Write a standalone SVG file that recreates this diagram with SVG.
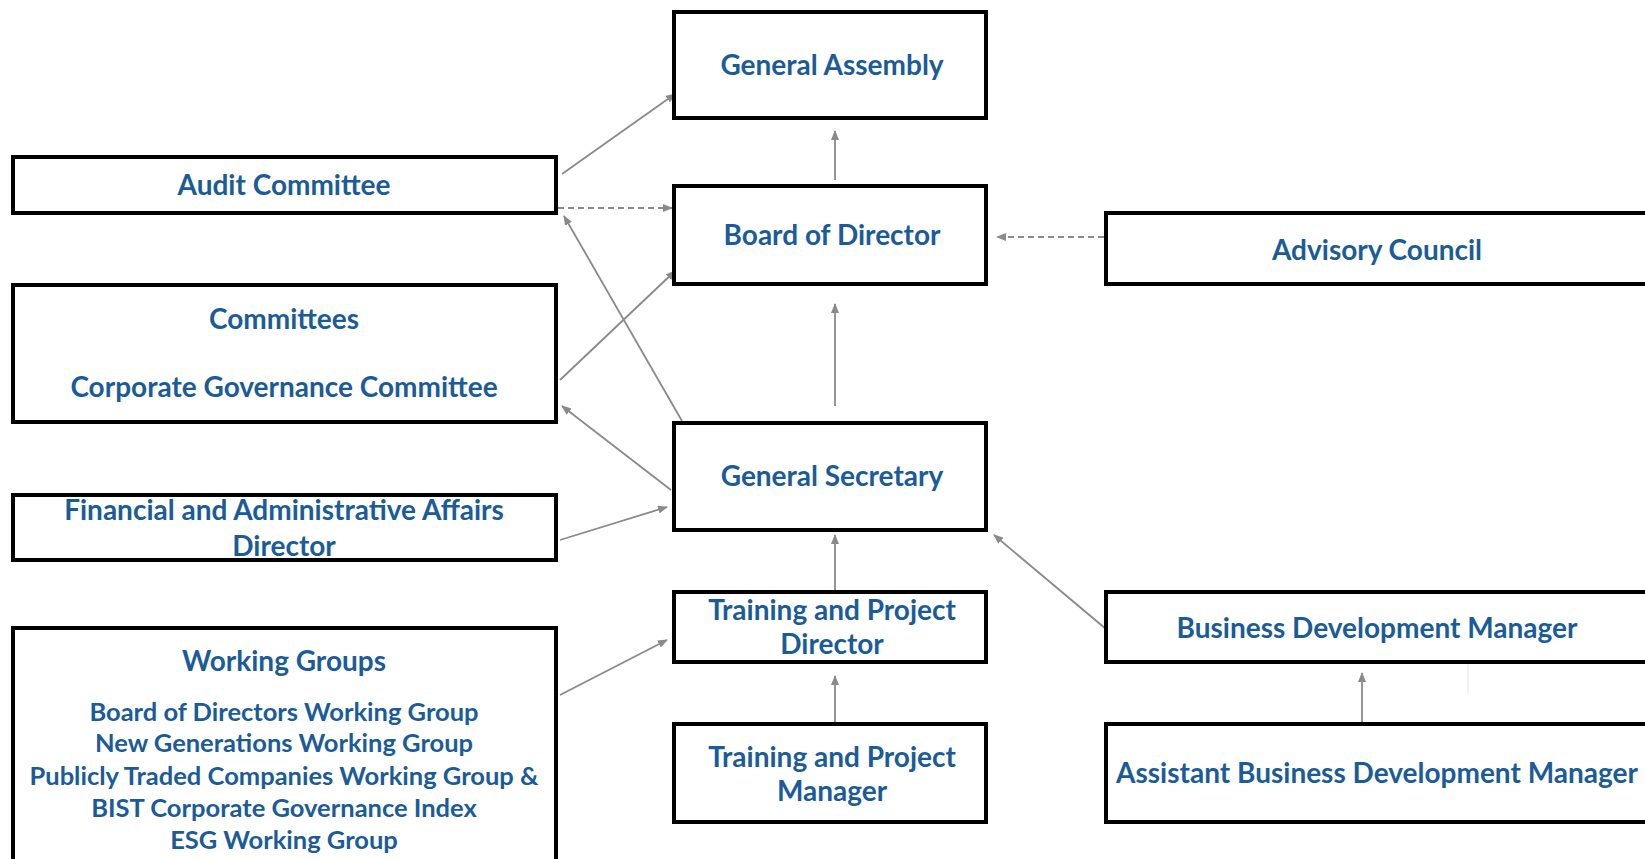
<svg xmlns="http://www.w3.org/2000/svg" width="1645" height="859" viewBox="0 0 1645 859">
<style>
.box{fill:#fff;stroke:#000;stroke-width:4}
.t{font-family:Lato,"Open Sans","Liberation Sans",sans-serif;font-weight:bold;font-size:28px;fill:#1b5c98;text-anchor:middle}
.s{font-size:25.5px}
.c{stroke:#8a8a8a;stroke-width:1.8;fill:none;marker-end:url(#ah)}
.d{stroke-dasharray:6 4}
</style>
<defs>
<marker id="ah" viewBox="0 0 10 8" refX="9" refY="4" markerWidth="10" markerHeight="8" orient="auto" markerUnits="userSpaceOnUse">
<path d="M0,0 L10,4 L0,8 z" fill="#8a8a8a"/>
</marker>
</defs>
<rect width="1645" height="859" fill="#fff"/>
<g id="connectors">
<line class="c" x1="562" y1="174" x2="675" y2="94"/>
<line class="c d" x1="558" y1="208" x2="672" y2="208"/>
<line class="c" x1="560" y1="380" x2="675" y2="271"/>
<line class="c" x1="682" y1="421" x2="564" y2="216"/>
<line class="c" x1="671" y1="490" x2="562" y2="406"/>
<line class="c" x1="560" y1="540" x2="667" y2="507"/>
<line class="c" x1="560" y1="695" x2="667" y2="640"/>
<line class="c" x1="835" y1="180" x2="835" y2="131"/>
<line class="c" x1="835" y1="406" x2="835" y2="304"/>
<line class="c" x1="835" y1="591" x2="835" y2="535"/>
<line class="c" x1="835" y1="723" x2="835" y2="676"/>
<line class="c d" x1="1104" y1="237" x2="997" y2="237"/>
<line class="c" x1="1106" y1="629" x2="994" y2="535"/>
<line class="c" x1="1362" y1="723" x2="1362" y2="673"/>
<line x1="1468" y1="664" x2="1468" y2="693" stroke="#e2e2e2" stroke-width="1"/>
</g>
<g id="general-assembly"><rect class="box" x="674" y="12" width="312" height="106"/><text class="t" x="832" y="75">General Assembly</text></g>
<g id="audit-committee"><rect class="box" x="13" y="157" width="543" height="56"/><text class="t" x="284" y="195">Audit Committee</text></g>
<g id="board-of-director"><rect class="box" x="674" y="186" width="312" height="98"/><text class="t" x="832" y="245">Board of Director</text></g>
<g id="advisory-council"><rect class="box" x="1106" y="213" width="545" height="71"/><text class="t" x="1377" y="260">Advisory Council</text></g>
<g id="committees"><rect class="box" x="13" y="285" width="543" height="137"/><text class="t" x="284" y="329">Committees</text><text class="t" x="284" y="397">Corporate Governance Committee</text></g>
<g id="general-secretary"><rect class="box" x="674" y="423" width="312" height="107"/><text class="t" x="832" y="486">General Secretary</text></g>
<g id="financial-director"><rect class="box" x="13" y="495" width="543" height="65"/><text class="t" x="284" y="520">Financial and Administrative Affairs</text><text class="t" x="284" y="556">Director</text></g>
<g id="training-project-director"><rect class="box" x="674" y="592" width="312" height="70"/><text class="t" x="832" y="620">Training and Project</text><text class="t" x="832" y="654">Director</text></g>
<g id="business-development-manager"><rect class="box" x="1106" y="592" width="545" height="70"/><text class="t" x="1377" y="638">Business Development Manager</text></g>
<g id="working-groups"><rect class="box" x="13" y="628" width="543" height="240"/><text class="t" x="284" y="671">Working Groups</text>
<text class="t s" x="284" y="721">Board of Directors Working Group</text>
<text class="t s" x="284" y="752">New Generations Working Group</text>
<text class="t s" x="284" y="785">Publicly Traded Companies Working Group &amp;</text>
<text class="t s" x="284" y="817">BIST Corporate Governance Index</text>
<text class="t s" x="284" y="849">ESG Working Group</text></g>
<g id="training-project-manager"><rect class="box" x="674" y="724" width="312" height="98"/><text class="t" x="832" y="767">Training and Project</text><text class="t" x="832" y="801">Manager</text></g>
<g id="assistant-bdm"><rect class="box" x="1106" y="724" width="545" height="98"/><text class="t" x="1377" y="783">Assistant Business Development Manager</text></g>
</svg>
